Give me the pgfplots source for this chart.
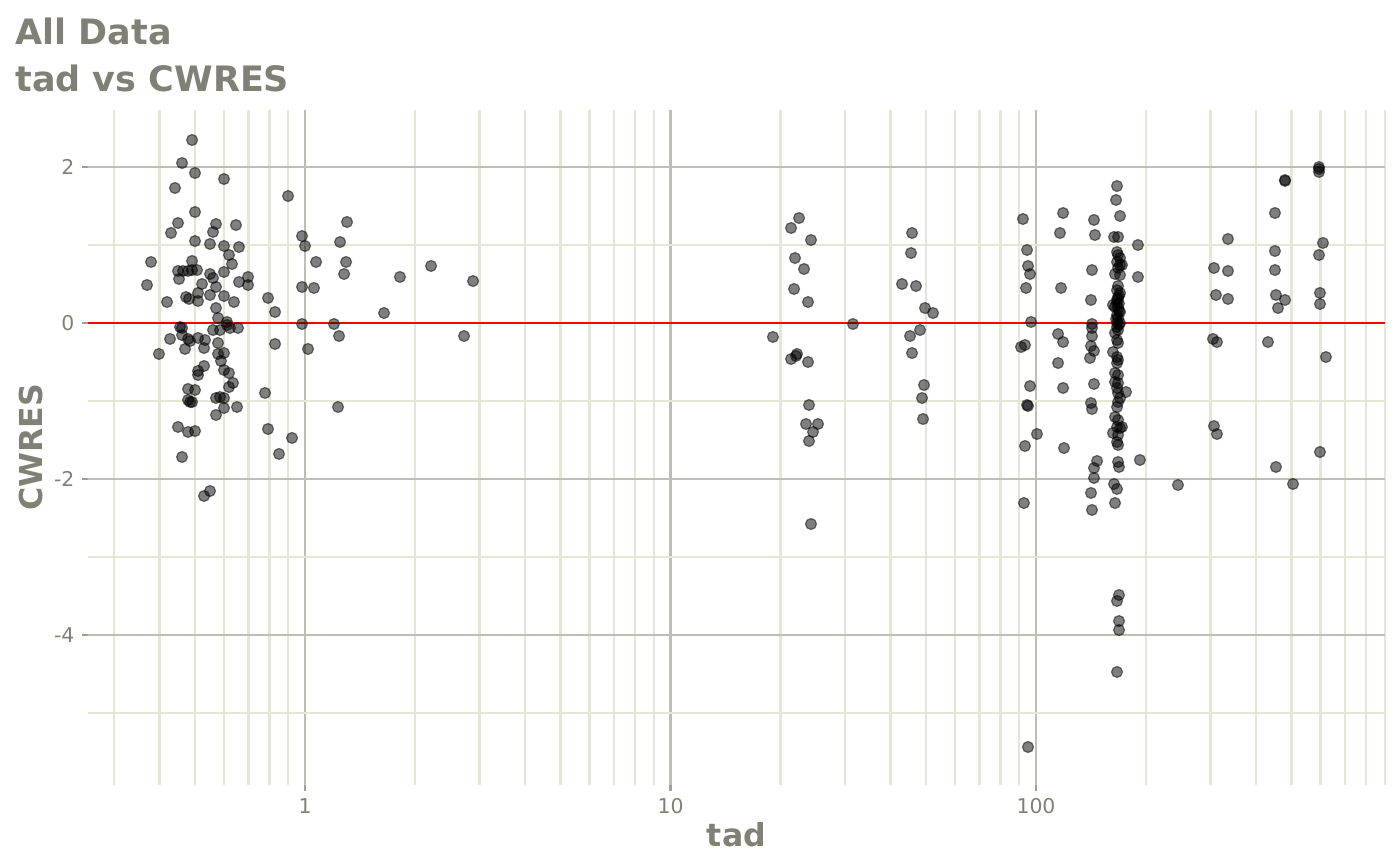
\documentclass[border=0pt]{standalone}
\usepackage{fontspec}
\setmainfont{DejaVu Sans}
\usepackage{pgfplots}
\usepackage{pgfplotstable}
\pgfplotsset{compat=1.18}
\definecolor{txt}{RGB}{128,128,118}
\definecolor{gmaj}{RGB}{190,190,178}
\definecolor{gmin}{RGB}{230,230,214}
\definecolor{tickc}{RGB}{160,160,150}

\pgfplotstableread{
x y
0.4908 2.346
0.4608 2.051
0.5000 1.923
0.6002 1.846
0.4408 1.731
0.5000 1.423
0.4492 1.282
0.5708 1.269
0.6473 1.256
0.4299 1.154
0.5601 1.167
0.5000 1.051
0.5496 1.013
0.6002 0.987
0.6597 0.974
0.6194 0.872
0.6312 0.756
0.3790 0.782
0.4908 0.795
0.4492 0.667
0.4637 0.667
0.4786 0.667
0.4908 0.679
0.5064 0.679
0.5496 0.628
0.5601 0.577
0.6002 0.654
0.4521 0.564
0.3696 0.487
0.5226 0.500
0.5708 0.462
0.6597 0.526
0.6984 0.590
0.6984 0.487
0.5096 0.385
0.5496 0.359
0.6002 0.346
0.4726 0.333
0.4816 0.308
0.5096 0.282
0.6391 0.269
0.4192 0.269
0.5708 0.192
0.5781 0.064
0.6117 0.013
0.7921 0.321
0.6117 -0.026
0.6233 -0.064
0.6556 -0.064
0.4550 -0.051
0.4608 -0.064
0.5601 -0.090
0.5853 -0.090
0.4272 -0.205
0.4608 -0.154
0.4786 -0.205
0.4847 -0.231
0.5096 -0.192
0.5326 -0.218
0.4696 -0.333
0.5293 -0.321
0.3985 -0.397
0.5781 -0.256
0.5781 -0.397
0.6002 -0.385
0.5890 -0.487
0.5096 -0.615
0.5096 -0.667
0.5293 -0.551
0.6002 -0.603
0.6194 -0.641
0.6352 -0.769
0.6194 -0.821
0.4786 -0.846
0.5000 -0.859
0.4786 -0.987
0.4847 -1.013
0.4908 -1.013
0.5708 -0.962
0.5853 -0.949
0.6002 -0.962
0.6516 -1.077
0.6002 -1.090
0.5708 -1.179
0.4492 -1.333
0.4786 -1.397
0.5000 -1.385
0.4608 -1.718
0.5293 -2.218
0.5496 -2.154
0.8986 1.628
0.9813 1.115
1.0000 0.987
1.303 1.295
1.247 1.038
1.072 0.782
1.295 0.782
1.279 0.628
1.819 0.590
2.212 0.731
2.882 0.538
0.9813 0.462
1.058 0.449
0.8279 0.141
1.645 0.128
0.9813 -0.013
1.200 -0.013
1.239 -0.167
2.723 -0.167
0.8279 -0.269
1.019 -0.333
0.7773 -0.897
1.231 -1.077
0.7921 -1.359
0.9214 -1.474
0.8489 -1.679
22.47 1.346
21.37 1.218
24.23 1.064
21.91 0.833
23.19 0.692
21.78 0.436
23.78 0.269
31.57 -0.013
19.07 -0.179
22.19 -0.397
21.37 -0.462
22.05 -0.423
23.78 -0.500
23.93 -1.051
23.48 -1.295
25.32 -1.295
24.54 -1.397
23.93 -1.513
24.23 -2.577
45.79 1.154
45.50 0.897
42.99 0.500
46.96 0.474
49.70 0.192
52.27 0.128
48.16 -0.090
45.22 -0.167
45.79 -0.385
49.39 -0.795
48.77 -0.962
49.08 -1.231
92.1 1.333
118.6 1.410
116.3 1.154
144.1 1.321
145.0 1.128
190.1 1.000
94.5 0.936
95.1 0.731
96.3 0.628
93.9 0.449
117.1 0.449
142.3 0.679
190.1 0.590
141.4 0.295
96.9 0.013
114.9 -0.141
118.6 -0.244
142.3 -0.013
142.3 -0.064
142.3 -0.167
141.4 -0.295
144.1 -0.359
140.5 -0.449
91.0 -0.308
93.3 -0.282
114.9 -0.513
96.3 -0.808
118.6 -0.833
144.1 -0.782
94.5 -1.051
95.1 -1.064
141.4 -1.026
142.3 -1.103
100.6 -1.423
93.3 -1.577
119.3 -1.603
146.9 -1.769
144.1 -1.859
144.1 -1.987
192.5 -1.756
176.3 -0.885
141.4 -2.179
142.3 -2.397
92.7 -2.308
164.5 -2.308
163.5 -2.064
166.6 -2.128
167.7 -1.782
168.7 -1.846
244.6 -2.077
168.7 -3.487
166.6 -3.564
168.7 -3.821
168.7 -3.936
166.6 -4.474
95.1 -5.436
166.6 1.756
165.6 1.577
169.8 1.372
167.7 1.103
163.5 1.103
166.6 0.910
167.7 0.872
169.8 0.833
166.6 0.782
169.8 0.744
167.7 0.705
171.9 0.744
164.5 0.628
169.8 0.615
167.7 0.474
169.8 0.385
167.7 0.321
166.6 0.256
164.5 0.205
167.7 0.192
169.8 0.141
166.6 0.103
167.7 0.064
169.8 0.000
166.6 -0.051
167.7 -0.090
162.4 0.231
166.6 0.000
164.5 -0.128
166.6 -0.218
167.7 -0.256
162.4 -0.372
166.6 -0.436
167.7 -0.474
166.6 -0.513
164.5 -0.641
167.7 -0.667
164.5 -0.756
167.7 -0.769
166.6 -0.833
167.7 -0.897
169.8 -0.962
167.7 -1.013
166.6 -1.077
164.5 -1.205
167.7 -1.244
162.4 -1.410
166.6 -1.333
169.8 -1.346
171.9 -1.333
167.7 -1.436
166.6 -1.526
167.7 -1.564
168.7 0.350
166.6 0.300
168.7 0.150
165.6 0.050
168.7 -0.020
166.6 0.420
168.7 0.250
594.7 2.000
594.7 1.974
594.7 1.936
480.1 1.821
480.1 1.833
450.6 1.410
335.2 1.077
609.8 1.026
450.6 0.923
594.7 0.872
306.9 0.705
335.2 0.667
450.6 0.679
310.8 0.359
335.2 0.308
453.5 0.359
480.1 0.295
459.3 0.192
598.4 0.385
598.4 0.244
305.0 -0.205
312.7 -0.244
431.2 -0.244
621.4 -0.436
306.9 -1.321
312.7 -1.423
598.4 -1.654
453.5 -1.846
504.9 -2.064
}\pts

\begin{document}
\begin{tikzpicture}
\path[use as bounding box] (0,0) rectangle (700pt,432.5pt);
\node[anchor=base west, text=txt, font=\fontsize{17.5}{20}\selectfont\bfseries, inner sep=0pt] at (7.5pt,410pt) {All Data};
\node[anchor=base west, text=txt, font=\fontsize{17.5}{20}\selectfont\bfseries, inner sep=0pt] at (7.5pt,386.5pt) {tad vs CWRES};
\begin{axis}[
  at={(44pt,40pt)}, anchor=south west,
  width=648.5pt, height=337.5pt, scale only axis,
  xmode=log, xmin=0.2548, xmax=901.4, ymin=-5.923, ymax=2.731,
  axis line style={draw=none},
  xtick={1,10,100}, xticklabels={1,10,100},
  minor xtick={0.3,0.4,0.5,0.6,0.7,0.8,0.9,2,3,4,5,6,7,8,9,20,30,40,50,60,70,80,90,200,300,400,500,600,700,800,900},
  ytick={-4,-2,0,2}, yticklabels={-4,-2,0,2},
  minor ytick={-5,-3,-1,1},
  grid=both,
  major grid style={gmaj, line width=1.15pt},
  minor grid style={gmin, line width=1.15pt},
  tick align=outside, major tick length=3.25pt, minor tick length=0pt,
  major tick style={tickc, line width=1.15pt},
  xtick pos=lower, ytick pos=left,
  ticklabel style={text=txt, font=\fontsize{10.2}{12}\selectfont},
  xlabel={tad}, ylabel={CWRES},
  label style={text=txt, font=\fontsize{15.8}{18}\selectfont\bfseries},
  xlabel style={at={(axis description cs:0.5,-0.0904)}, anchor=base},
  ylabel style={at={(axis description cs:-0.0347,0.5)}, anchor=base},
]
\addplot[only marks, mark=*, mark size=2.75pt,
  mark options={fill=black, draw=black, fill opacity=0.5, draw opacity=0.5, line width=0.6pt}]
  table[x=x, y=y] {\pts};
\addplot[red, line width=1.4pt] coordinates {(0.2548,0) (901.4,0)};
\end{axis}
\end{tikzpicture}
\end{document}
